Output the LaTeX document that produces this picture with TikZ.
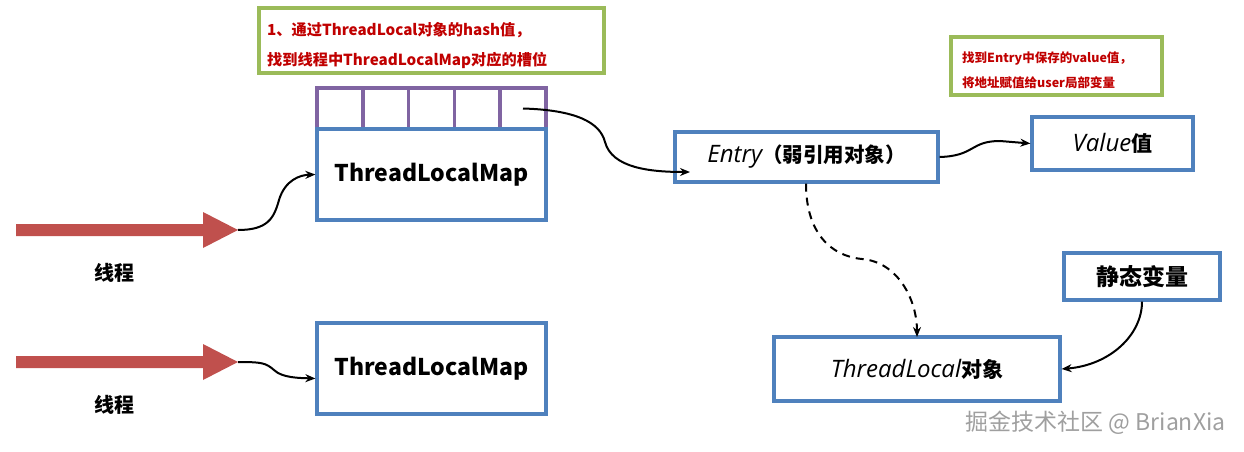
\documentclass[tikz,border=0pt]{standalone}
\usepackage{fontspec}
\setmainfont{Noto Sans CJK SC}
\newfontfamily\hand{Open Sans}
\usetikzlibrary{arrows.meta}
\definecolor{boxblue}{HTML}{4F81BD}
\definecolor{slotpurple}{HTML}{8064A2}
\definecolor{notegreen}{HTML}{9BBB59}
\definecolor{notered}{HTML}{C00000}
\definecolor{threadred}{HTML}{C0504D}
\tikzset{
  bluebox/.style={draw=boxblue, line width=3.3pt, rectangle, inner sep=0pt},
  slotbox/.style={draw=slotpurple, line width=3.3pt, rectangle, inner sep=0pt, minimum width=45.8, minimum height=41},
  notebox/.style={draw=notegreen, line width=3.3pt, rectangle, inner sep=0pt},
  notetext/.style={text=notered, font=\bfseries, anchor=west, inner sep=0pt},
  conn/.style={draw=black, line width=2pt, -{Stealth[length=10pt,width=8pt]}},
  dashconn/.style={conn, dashed, dash pattern=on 8pt off 6pt},
  boldlabel/.style={font=\bfseries\fontsize{23}{25}\selectfont},
  handtext/.style={font=\hand\itshape\fontsize{24}{26}\selectfont},
  threadarrow/.style={fill=threadred, draw=none}
}
\begin{document}
\begin{tikzpicture}[x=1pt,y=-1pt]
\useasboundingbox (0,0) rectangle (1244,452);

% note 1
\node[notebox, minimum width=345, minimum height=65] (note1) at (431.5,40.5) {};
\node[notetext, font=\bfseries\fontsize{15.2}{18}\selectfont] (note1a) at (267,30) {1、通过ThreadLocal对象的hash值，};
\node[notetext, font=\bfseries\fontsize{15.2}{18}\selectfont] (note1b) at (267,60) {找到线程中ThreadLocalMap对应的槽位};

% note 2
\node[notebox, minimum width=211, minimum height=58] (note2) at (1056.5,66) {};
\node[notetext, font=\bfseries\fontsize{12.5}{15}\selectfont] (note2a) at (962,59) {找到Entry中保存的value值，};
\node[notetext, font=\bfseries\fontsize{12.5}{15}\selectfont] (note2b) at (962,83) {将地址赋值给user局部变量};

% slots
\node[slotbox] (slot1) at (340,108.5) {};
\node[slotbox] (slot2) at (385.8,108.5) {};
\node[slotbox] (slot3) at (431.5,108.5) {};
\node[slotbox] (slot4) at (477.3,108.5) {};
\node[slotbox] (slot5) at (523,108.5) {};

% maps
\node[bluebox, minimum width=229, minimum height=91, boldlabel] (map1) at (431.5,174.5) {ThreadLocalMap};
\node[bluebox, minimum width=229, minimum height=91, boldlabel] (map2) at (431.5,368.5) {ThreadLocalMap};

% thread arrows
\path[threadarrow] (16,224) -- (203,224) -- (203,212) -- (238,230) -- (203,248) -- (203,236) -- (16,236) -- cycle;
\path[threadarrow] (16,356) -- (203,356) -- (203,344) -- (238,362) -- (203,380) -- (203,368) -- (16,368) -- cycle;
\coordinate (t1) at (238,230);
\coordinate (t2) at (238,362);
\node[font=\bfseries\fontsize{20}{22}\selectfont] (th1) at (114,273) {线程};
\node[font=\bfseries\fontsize{20}{22}\selectfont] (th2) at (114,405) {线程};

% entry, value
\node[bluebox, minimum width=263, minimum height=50] (entry) at (806.5,157) {{\hand\itshape\fontsize{24}{26}\selectfont Entry}{\bfseries\fontsize{20.5}{24}\selectfont （弱引用对象）}};
\node[bluebox, minimum width=161, minimum height=53] (value) at (1112.5,143.5) {{\hand\itshape\fontsize{24}{26}\selectfont Value}{\bfseries\fontsize{21}{24}\selectfont 值}};
\node[bluebox, minimum width=156, minimum height=47, boldlabel] (static) at (1142,276.5) {静态变量};
\node[bluebox, minimum width=286, minimum height=64] (tl) at (917,369) {{\hand\itshape\fontsize{24}{26}\selectfont ThreadLocal}{\bfseries\fontsize{21}{24}\selectfont 对象}};

% watermark
\node[text=gray!75, font=\fontsize{23}{26}\selectfont, anchor=east] (wm) at (1229,423) {掘金技术社区 @ BrianXia};

% connectors
\coordinate (entryin) at (690,172);
\draw[conn] (slot5.center) .. controls (575,110) and (600,122) .. (605,142) .. controls (612,168) and (650,172) .. (entryin);
\draw[conn] (t1) .. controls (268,230) and (274,218) .. (279,200) .. controls (285,180) and (300,175) .. (map1.west);
\draw[conn] (t2) .. controls (262,362) and (266,363) .. (274,370) .. controls (282,378) and (300,378) .. ([yshift=-10pt]map2.west);
\draw[conn] (entry.east) .. controls (975,156) and (970,141) .. (1000,141) -- (value.west);
\draw[dashconn] ([xshift=-0.5pt]entry.south) .. controls (806,232) and (830,256) .. (862,259) .. controls (898,262) and (917,300) .. (917,337);
\draw[conn] (static.south) .. controls (1142,335) and (1110,365) .. (tl.east);
\end{tikzpicture}
\end{document}
